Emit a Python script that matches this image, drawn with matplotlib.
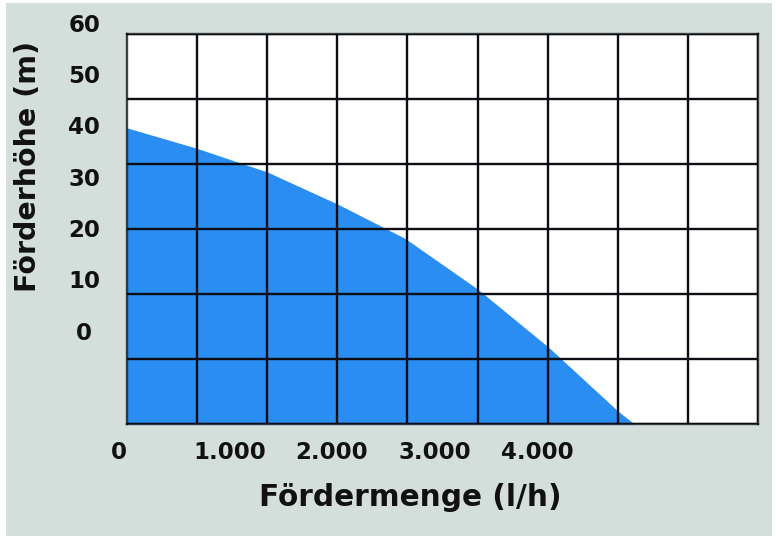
import numpy as np
import matplotlib
matplotlib.use("Agg")
import matplotlib.pyplot as plt
from matplotlib.patches import Rectangle
import matplotlib.transforms as mtransforms

# pump curve
flow = [0, 670, 1370, 2060, 2710, 3420, 4110, 4790, 4950]      # l/h
head = [40.0, 36.1, 31.4, 25.1, 18.5, 8.6, -2.7, -15.2, -17.7]  # m

x_ticks = [0, 1000, 2000, 3000, 4000]
x_tick_labels = ["0", "1.000", "2.000", "3.000", "4.000"]
y_ticks = [0, 10, 20, 30, 40, 50, 60]
y_tick_labels = ["0", "10", "20", "30", "40", "50", "60"]

bg = "#d4dfdb"
blue = "#2a8df2"
line_col = (0.05, 0.05, 0.08, 0.78)

plt.rcParams['font.family'] = ['DejaVu Sans']
plt.rcParams['font.weight'] = 'bold'

fig = plt.figure(figsize=(7.76, 5.38), dpi=100)
fig.patch.set_facecolor("white")
fig.patches.append(Rectangle((0.0077, 0.0037), 0.987, 0.9907, transform=fig.transFigure,
                             facecolor=bg, edgecolor="none", zorder=-5))

ax = fig.add_axes([0.1637, 0.2119, 0.8131, 0.7249])
ax.set_zorder(1)
ax.set_facecolor("white")
xmin, xmax = 0, 6156
ymin, ymax = -17.7, 58.3
ax.set_xlim(xmin, xmax)
ax.set_ylim(ymin, ymax)

ax.fill_between(flow, head, ymin, color=blue, linewidth=0, zorder=1)

# drawn grid: 9 columns x 6 rows
ax.set_xticks(np.linspace(xmin, xmax, 10), minor=True)
ax.set_yticks(np.linspace(ymin, ymax, 7), minor=True)
ax.grid(which='minor', color=line_col, linewidth=1.7)
ax.grid(which='major', visible=False)
ax.set_axisbelow(False)
for s in ax.spines.values():
    s.set_color(line_col)
    s.set_linewidth(1.7)

ax.set_xticks(x_ticks, x_tick_labels)
ax.tick_params(axis='both', which='both', length=0)
ax.tick_params(axis='x', pad=12, labelsize=16.5, labelcolor="#111111")
ax.get_xticklabels()[0].set_ha('right')
ax.set_yticks([])

trans = mtransforms.blended_transform_factory(ax.transAxes, ax.transData)
for v, lab in zip(y_ticks, y_tick_labels):
    ax.text(-0.068, v, lab, transform=trans, ha='center', va='center',
            fontsize=16.5, fontweight='bold', color="#111111", clip_on=False)

fig.text(410 / 776, 1 - 497 / 538, "Fördermenge (l/h)", ha='center', va='center',
         fontsize=21.3, fontweight='bold', color="#111111")
fig.text(28 / 776, 1 - 166 / 538, "Förderhöhe (m)", ha='center', va='center',
         rotation=90, fontsize=20.5, fontweight='bold', color="#111111")

fig.savefig("out.png", dpi=100, facecolor=fig.get_facecolor())
